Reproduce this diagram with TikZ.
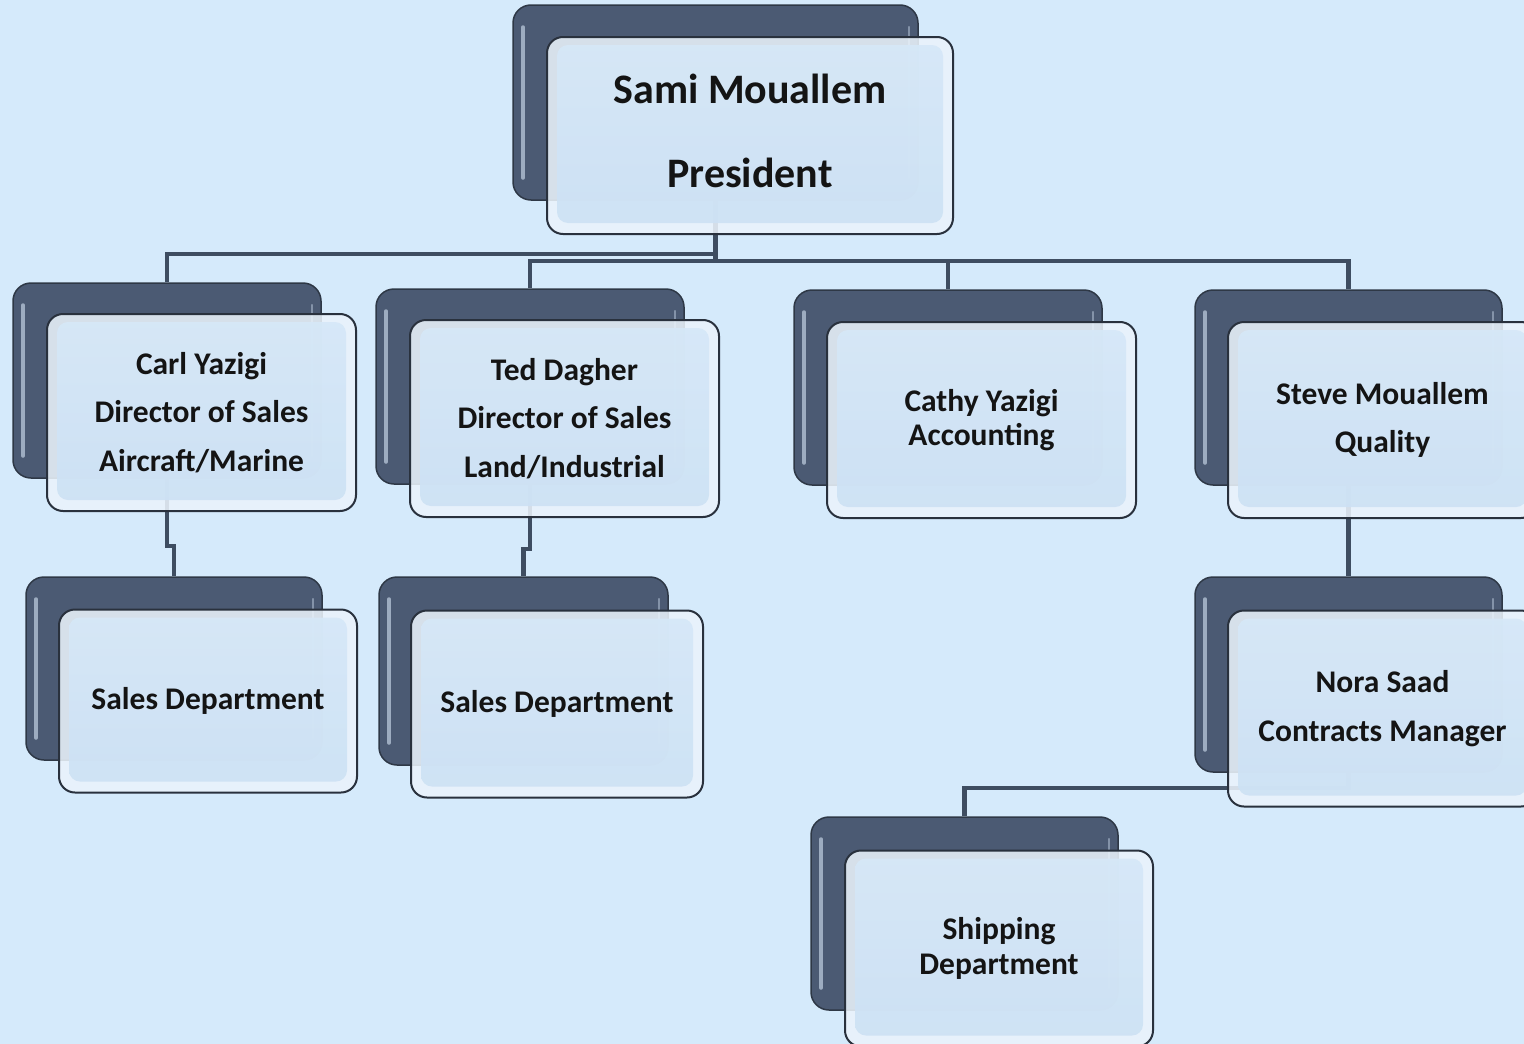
\documentclass[tikz,border=0pt]{standalone}
\usepackage{fontspec}
\setmainfont{Carlito}
\pgfdeclarelayer{bgl}
\pgfdeclarelayer{lines}
\pgfsetlayers{bgl,lines,main}
\definecolor{bgc}{HTML}{D5EAFB}
\definecolor{backfill}{HTML}{4B5A73}
\definecolor{backedge}{HTML}{2E3846}
\definecolor{backhi}{HTML}{9DACC0}
\definecolor{frontedge}{HTML}{29313D}
\definecolor{frontband}{HTML}{EAF3FB}
\definecolor{frontface}{HTML}{CCE1F4}
\definecolor{frontfacetop}{HTML}{D6E8F8}
\definecolor{linec}{HTML}{3E4D61}
\tikzset{
  backbox/.style={draw=backedge, line width=1.5pt, fill=backfill, rounded corners=18pt,
    inner sep=0pt,
    path picture={
      \draw[backhi, line width=3.5pt, line cap=round]
        ([shift={(10pt,-22pt)}]path picture bounding box.north west) --
        ([shift={(10pt,22pt)}]path picture bounding box.south west);
      \draw[backhi!70!backfill, line width=2.5pt, line cap=round]
        ([shift={(-9pt,-22pt)}]path picture bounding box.north east) --
        ([shift={(-9pt,22pt)}]path picture bounding box.south east);
    }},
  frontbox/.style={draw=frontedge, line width=2pt, fill=frontband, fill opacity=0.88,
    text opacity=1, rounded corners=16pt, inner sep=0pt, align=center, text=black!92,
    path picture={
      \shade[top color=frontfacetop, bottom color=frontface, rounded corners=11pt, fill opacity=0.92]
        ([shift={(10pt,-8pt)}]path picture bounding box.north west) rectangle
        ([shift={(-10pt,11pt)}]path picture bounding box.south east);
    }},
  bigtxt/.style={font=\fontsize{42}{84}\selectfont\bfseries},
  widetxt/.style={font=\fontsize{31.5}{48.5}\selectfont\bfseries},
  tighttxt/.style={font=\fontsize{31.5}{34.5}\selectfont\bfseries},
  conn/.style={draw=linec, line width=4.5pt}
}
\begin{document}
\begin{tikzpicture}[x=1pt,y=-1pt]
\begin{pgfonlayer}{bgl}
\fill[bgc] (0,0) rectangle (1524,1044);
\end{pgfonlayer}
\useasboundingbox (0,0) rectangle (1524,1044);

% President
\node[backbox, minimum width=405pt, minimum height=195pt] (presB) at (715.5,102.5) {};
\node[frontbox, bigtxt, text depth=9pt, minimum width=406pt, minimum height=197pt] (pres) at (750,135.5)
  {Sami Mouallem\\President};

% Level 2
\node[backbox, minimum width=308pt, minimum height=195pt] (carlB) at (167,380.5) {};
\node[frontbox, widetxt, minimum width=309pt, minimum height=197pt] (carl) at (201.5,412.5)
  {Carl Yazigi\\Director of Sales\\Aircraft/Marine};

\node[backbox, minimum width=308pt, minimum height=195pt] (tedB) at (530,386.5) {};
\node[frontbox, widetxt, minimum width=309pt, minimum height=197pt] (ted) at (564.5,418.5)
  {Ted Dagher\\Director of Sales\\Land/Industrial};

\node[backbox, minimum width=308pt, minimum height=195pt] (cathyB) at (948,387.5) {};
\node[frontbox, tighttxt, minimum width=309pt, minimum height=196pt] (cathy) at (981.5,420)
  {Cathy Yazigi\\Accounting};

\node[backbox, minimum width=307pt, minimum height=195pt] (steveB) at (1348.5,387.5) {};
\node[frontbox, widetxt, minimum width=309pt, minimum height=196pt] (steve) at (1382.5,420)
  {Steve Mouallem\\Quality};

% Level 3
\node[backbox, minimum width=296pt, minimum height=183pt] (salesAB) at (174,668.5) {};
\node[frontbox, widetxt, minimum width=298pt, minimum height=183pt] (salesA) at (208,701)
  {Sales Department};

\node[backbox, minimum width=289pt, minimum height=188pt] (salesBB) at (523.5,671) {};
\node[frontbox, widetxt, minimum width=292pt, minimum height=187pt] (salesB) at (557,704)
  {Sales Department};

\node[backbox, minimum width=307pt, minimum height=195pt] (noraB) at (1348.5,674.5) {};
\node[frontbox, widetxt, minimum width=309pt, minimum height=196pt] (nora) at (1382.5,708.5)
  {Nora Saad\\Contracts Manager};

% Level 4
\node[backbox, minimum width=307pt, minimum height=193pt] (shipB) at (964.5,913.5) {};
\node[frontbox, tighttxt, minimum width=308pt, minimum height=196pt] (ship) at (999,948.5)
  {Shipping\\Department};

\begin{pgfonlayer}{lines}
\draw[conn] (presB.south) -- ++(0,53) -| (carlB.north);
\draw[conn] (presB.south) -- ++(0,60) -| (tedB.north);
\draw[conn] (presB.south) -- ++(0,60) -| (cathyB.north);
\draw[conn] (presB.south) -- ++(0,60) -| (steveB.north);
\draw[conn] (carlB.south) -- ++(0,67) -| (salesAB.north);
\draw[conn] (tedB.south) -- ++(0,64) -| (salesBB.north);
\draw[conn] (steveB.south) -- (noraB.north);
\draw[conn] (noraB.south) -- ++(0,15) -| (shipB.north);
\end{pgfonlayer}
\end{tikzpicture}
\end{document}
